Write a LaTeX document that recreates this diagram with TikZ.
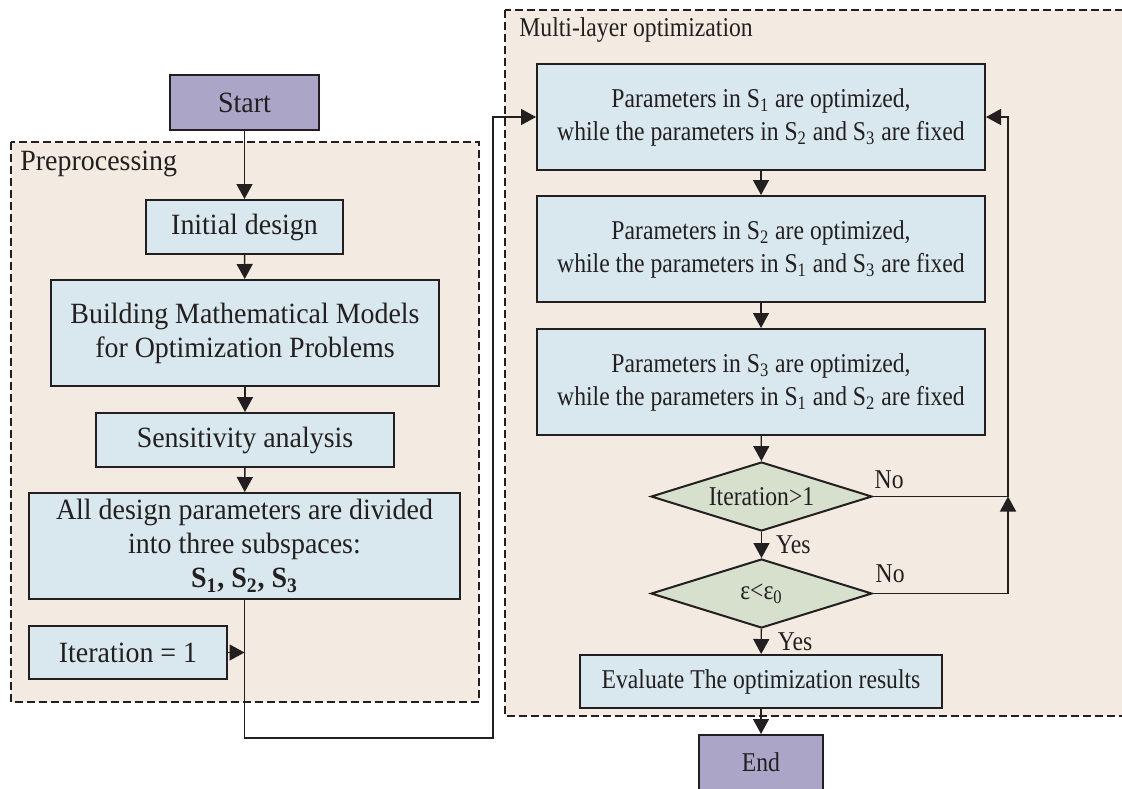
\documentclass[tikz,border=0pt]{standalone}
\usepackage{fontspec}
\setmainfont{Liberation Serif}
\newfontfamily\leftserif[FakeStretch=0.95]{Liberation Serif}
\newfontfamily\rightserif[FakeStretch=0.87]{Liberation Serif}
\usetikzlibrary{arrows.meta,shapes.geometric,positioning}

\definecolor{endpurple}{RGB}{171,165,200}
\definecolor{stepblue}{RGB}{216,232,238}
\definecolor{testgreen}{RGB}{214,224,204}
\definecolor{groupbeige}{RGB}{243,235,225}
\definecolor{ink}{RGB}{35,31,32}

\tikzset{
  txt/.style={font=\leftserif\fontsize{14.7}{17}\selectfont, text=ink},
  txtr/.style={font=\rightserif\fontsize{13.6}{16.5}\selectfont, text=ink},
  box/.style={txt, draw=ink, line width=1pt, fill=stepblue, align=center, inner sep=0pt},
  boxr/.style={box, txtr},
  terminal/.style={box, fill=endpurple},
  test/.style={boxr, diamond, fill=testgreen, aspect=3.2, minimum width=110.5pt, minimum height=34.5pt},
  group/.style={draw=ink, line width=1pt, dash pattern=on 4pt off 2pt, fill=groupbeige},
  arr/.style={draw=ink, line width=0.7pt, -{Triangle[length=7.5pt,width=8pt]}},
  lbl/.style={txtr, inner sep=0pt},
}

\begin{document}
\begin{tikzpicture}[x=0.5pt,y=-0.5pt]
\useasboundingbox (0,0) rectangle (1122,788);
\clip (0,0) rectangle (1122,788);
% Gruppi
\draw[group] (11,142) rectangle (479,702);
\draw[group] (505,10) rectangle (1140,716);
\node[txt, inner sep=0pt, anchor=base west] (prelabel) at (20,170) {Preprocessing};
\node[lbl, anchor=base west] (multilabel) at (519,36) {Multi-layer optimization};

% Preprocessing
\node[terminal, minimum width=74.5pt, minimum height=27.5pt] (start) at (244.5,102.5) {Start};
\node[box, minimum width=98.5pt, minimum height=27pt] (init) at (244.5,227) {Initial design};
\node[box, minimum width=194pt, minimum height=53pt] (model) at (245,333) {Building Mathematical Models\\for Optimization Problems};
\node[box, minimum width=149pt, minimum height=27pt] (sens) at (245,440) {Sensitivity analysis};
\node[box, minimum width=215.5pt, minimum height=53pt] (divide) at (244.5,546) {All design parameters are divided\\into three subspaces:\\\textbf{S\textsubscript{1}, S\textsubscript{2}, S\textsubscript{3}}};
\node[box, minimum width=99pt, minimum height=26.5pt] (iter) at (128,652.5) {Iteration = 1};

% Multi-layer optimization
\node[boxr, minimum width=224pt, minimum height=53pt] (p1) at (761,117) {Parameters in S\textsubscript{1} are optimized,\\while the parameters in S\textsubscript{2} and S\textsubscript{3} are fixed};
\node[boxr, minimum width=224pt, minimum height=53pt] (p2) at (761,249) {Parameters in S\textsubscript{2} are optimized,\\while the parameters in S\textsubscript{1} and S\textsubscript{3} are fixed};
\node[boxr, minimum width=224pt, minimum height=53pt] (p3) at (761,382) {Parameters in S\textsubscript{3} are optimized,\\while the parameters in S\textsubscript{1} and S\textsubscript{2} are fixed};
\node[test] (d1) at (761.5,496.5) {Iteration>1};
\node[test] (d2) at (761.5,593.5) {ε<ε\textsubscript{0}};
\node[boxr, minimum width=181pt, minimum height=26.5pt] (eval) at (761,681.5) {Evaluate The optimization results};
\node[terminal, txtr, minimum width=62pt, minimum height=27.5pt] (end) at (761,762.5) {End};

% Frecce
\draw[arr] (start) -- (init);
\draw[arr] (init) -- (model);
\draw[arr] (model) -- (sens);
\draw[arr] (sens) -- (divide);
\coordinate (merge) at (divide.south |- iter.east);
\coordinate (feed) at (493,738);
\draw[arr] (iter) -- (merge);
\draw[arr] (divide.south) |- (feed) |- (p1.west);
\draw[arr] (p1) -- (p2);
\draw[arr] (p2) -- (p3);
\draw[arr] (p3) -- (d1);
\draw[arr] (d1) -- node[lbl, right=7pt] {Yes} (d2);
\draw[arr] (d2) -- node[lbl, right=8pt] {Yes} (eval);
\draw[arr] (eval) -- (end);
% Ritorno
\coordinate (back) at (1008,117);
\draw[arr] (d1.east) node[lbl, anchor=base west, xshift=0.5pt, yshift=4.25pt] {No} -| (back) -- (p1.east);
\draw[arr] (d2.east) node[lbl, anchor=base west, xshift=1pt, yshift=5.5pt] {No} -| (d1.east -| back);
\end{tikzpicture}
\end{document}
